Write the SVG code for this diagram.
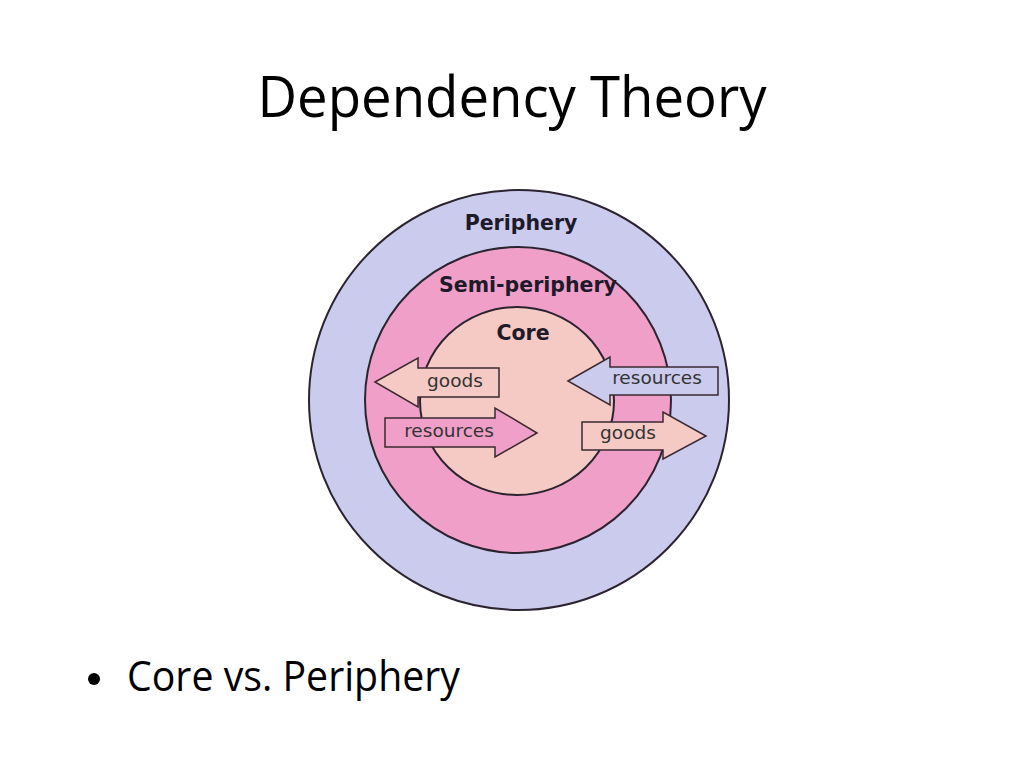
<svg xmlns="http://www.w3.org/2000/svg" width="1024" height="768" viewBox="0 0 1024 768">
<style>
.ring{stroke:#2b2430;stroke-width:2}
.arrow{stroke:#3a2a30;stroke-width:1.5;stroke-linejoin:miter}
.lbl{font-family:"DejaVu Sans",sans-serif;font-weight:bold;font-size:20.5px;fill:#1e1a2a;text-anchor:middle}
.alb{font-family:"DejaVu Sans",sans-serif;font-size:18.5px;fill:#333;text-anchor:middle}
.slide{font-family:"Open Sans","Liberation Sans",sans-serif;fill:#000}
</style>
<rect width="1024" height="768" fill="#fff"/>
<text class="slide" x="512" y="117" font-size="56" text-anchor="middle" textLength="509" lengthAdjust="spacingAndGlyphs">Dependency Theory</text>
<circle cx="94" cy="679" r="6" fill="#000"/>
<text class="slide" x="127" y="691" font-size="42" textLength="333" lengthAdjust="spacingAndGlyphs">Core vs. Periphery</text>

<g id="periphery">
<circle class="ring" cx="519" cy="400" r="210" fill="#cbcbee"/>
<text class="lbl" x="521" y="230">Periphery</text>
</g>
<g id="semi-periphery">
<circle class="ring" cx="518" cy="400" r="153" fill="#f0a0c8"/>
<text class="lbl" x="528" y="292">Semi-periphery</text>
</g>
<g id="core">
<ellipse class="ring" cx="517" cy="401" rx="97" ry="94" fill="#f5c9c4"/>
<text class="lbl" x="523" y="340">Core</text>
</g>

<g id="connectors">
<g id="goods-left">
<path class="arrow" fill="#f5c9c4" d="M375,382 L418,358 L418,368 L499,368 L499,397 L418,397 L418,407 Z"/>
<text class="alb" x="455" y="387">goods</text>
</g>
<g id="resources-left">
<path class="arrow" fill="#f0a0c8" d="M385,418 L495,418 L495,408 L537,433 L495,457 L495,447 L385,447 Z"/>
<text class="alb" x="449" y="437">resources</text>
</g>
<g id="resources-right">
<path class="arrow" fill="#cbcbee" d="M568,381 L610,357 L610,367 L718,367 L718,395 L610,395 L610,405 Z"/>
<text class="alb" x="657" y="384">resources</text>
</g>
<g id="goods-right">
<path class="arrow" fill="#f5c9c4" d="M582,422 L663,422 L663,412 L706,436 L663,459 L663,450 L582,450 Z"/>
<text class="alb" x="628" y="439">goods</text>
</g>
</g>
</svg>
